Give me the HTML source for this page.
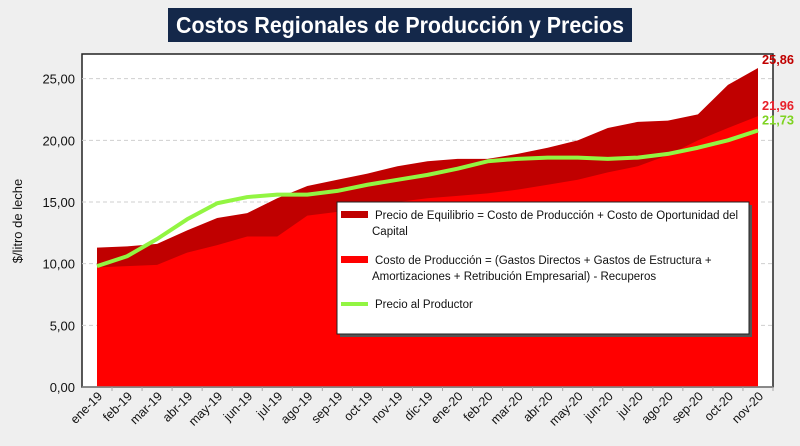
<!DOCTYPE html>
<html><head><meta charset="utf-8"><style>
body{margin:0;background:#eeeeee;font-family:"Liberation Sans",sans-serif}
#wrap{position:relative;width:800px;height:446px;background:#efefef;overflow:hidden}
</style></head><body>
<div id="wrap">
<svg id="chart" width="800" height="446" xmlns="http://www.w3.org/2000/svg"></svg>
</div>
<script>
const categories=["ene-19","feb-19","mar-19","abr-19","may-19","jun-19","jul-19","ago-19","sep-19","oct-19","nov-19","dic-19","ene-20","feb-20","mar-20","abr-20","may-20","jun-20","jul-20","ago-20","sep-20","oct-20","nov-20"];
const equilibrio=[11.3,11.4,11.6,12.7,13.7,14.1,15.3,16.3,16.8,17.3,17.9,18.3,18.5,18.5,18.9,19.4,20.0,21.0,21.5,21.6,22.1,24.5,25.86];
const costo=[9.7,9.8,9.9,10.9,11.5,12.2,12.2,13.9,14.2,14.6,15.0,15.3,15.5,15.7,16.0,16.4,16.8,17.4,17.9,18.8,20.0,21.0,21.96];
const precio=[9.8,10.6,12.0,13.6,14.9,15.4,15.6,15.6,15.9,16.4,16.8,17.2,17.7,18.3,18.5,18.6,18.6,18.5,18.6,18.9,19.4,20.0,20.8];
const yTicks=[0,5,10,15,20,25];
const yTickLabels=["0,00","5,00","10,00","15,00","20,00","25,00"];
const endLabels=["25,86","21,96","21,73"];

const NS="http://www.w3.org/2000/svg";
const svg=document.getElementById('chart');
const L=82,R=773,T=54,B=387,yMax=27;
const x0=97,x1=758;
function xs(i){return x0+(x1-x0)*i/(categories.length-1);}
function ys(v){return B-(B-T)*v/yMax;}
function mk(tag,attrs,parent){const e=document.createElementNS(NS,tag);for(const k in attrs)e.setAttribute(k,attrs[k]);(parent||svg).appendChild(e);return e;}

// title
const tb=mk('rect',{x:168,y:8,width:464,height:34,fill:'#14284a'});


const tt=mk('text',{x:176,y:33,'font-size':'23','font-weight':'bold',fill:'#fff',textLength:448,lengthAdjust:'spacingAndGlyphs'});
tt.textContent='Costos Regionales de Producción y Precios';



// plot area
const pa=mk('rect',{x:L,y:T,width:R-L,height:B-T,fill:'#fff',stroke:'#222','stroke-width':1.5});



yTicks.forEach((v,i)=>{
  if(v>0){const g=mk('line',{x1:L,x2:R,y1:ys(v),y2:ys(v),stroke:'#cfcfcf','stroke-dasharray':'4,3'});
  
  }
  const t=mk('text',{x:75,y:ys(v)+5,'text-anchor':'end','font-size':'13',fill:'#111'});
  t.textContent=yTickLabels[i];
  
  
});

function areaPath(arr){let d='M'+xs(0)+','+B;arr.forEach((v,i)=>{d+=' L'+xs(i)+','+ys(v);});d+=' L'+xs(arr.length-1)+','+B+' Z';return d;}
const a1=mk('path',{d:areaPath(equilibrio),fill:'#c00000'});


const a2=mk('path',{d:areaPath(costo),fill:'#ff0000'});


const ln=mk('polyline',{points:precio.map((v,i)=>xs(i)+','+ys(v)).join(' '),fill:'none',stroke:'#92f542','stroke-width':4,'stroke-linejoin':'round'});



const ax=mk('line',{x1:L,x2:R,y1:B,y2:B,stroke:'#888','stroke-width':1.5});


categories.forEach((c,i)=>{
  const tk=mk('line',{x1:xs(i)+15,x2:xs(i)+15,y1:B,y2:B+4,stroke:'#aaa'});
  
  
  const t=mk('text',{x:xs(i)+6,y:B+10,'text-anchor':'end','font-size':'12.5',fill:'#111',transform:'rotate(-45 '+(xs(i)+6)+' '+(B+10)+')'});
  t.textContent=c;
  
  
});

const yt=mk('text',{x:22,y:221,'text-anchor':'middle','font-size':'13',fill:'#111',transform:'rotate(-90 22 221)'});
yt.textContent='$/litro de leche';



const n=categories.length-1;
const ecol=['#c00000','#e8202a','#7ed321'];
const evals=[equilibrio[n],costo[n],precio[n]];
const eoff=[4,6,4];
endLabels.forEach((s,i)=>{
  const t=mk('text',{x:762,y:ys(evals[i])-eoff[i]+ (i==2?-2:0),'font-size':'13','font-weight':'bold',fill:ecol[i],textLength:32,lengthAdjust:'spacingAndGlyphs'});
  t.textContent=s;
  
  
});

// legend
const lg=mk('g',{});


mk('rect',{x:340,y:205,width:412,height:132,fill:'#555'},lg);
mk('rect',{x:337,y:202,width:412,height:132,fill:'#fff',stroke:'#222','stroke-width':1},lg);
const items=[
 {kind:'rect',col:'#c00000',y:215,lines:['Precio de Equilibrio = Costo de Producción + Costo de Oportunidad del','Capital']},
 {kind:'rect',col:'#ff0000',y:260,lines:['Costo de Producción = (Gastos Directos + Gastos de Estructura +','Amortizaciones + Retribución Empresarial) - Recuperos']},
 {kind:'line',col:'#92f542',y:304,lines:['Precio al Productor']}
];
items.forEach(it=>{
  const g=mk('g',{},lg);
  
  
  if(it.kind=='rect')mk('rect',{x:341,y:it.y-4,width:27,height:7,fill:it.col},g);
  else mk('line',{x1:341,x2:368,y1:it.y,y2:it.y,stroke:it.col,'stroke-width':4},g);
  it.lines.forEach((s,j)=>{const t=mk('text',{x:j==0?375:372,y:it.y+4+j*16,'font-size':'11.5',fill:'#111'},g);t.textContent=s;});
});
</script>
</body></html>
